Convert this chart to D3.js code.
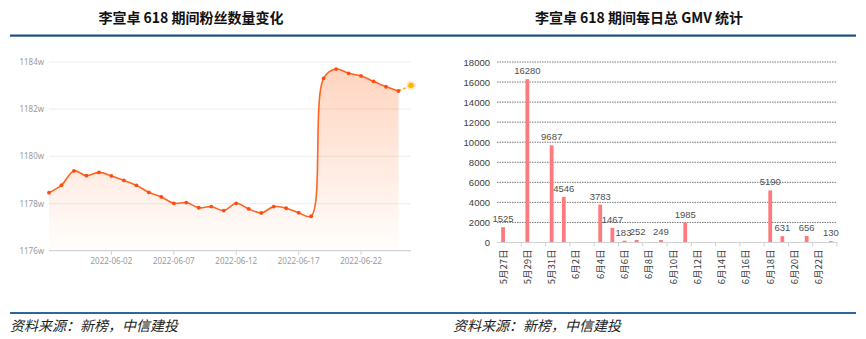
<!DOCTYPE html>
<html>
<head>
<meta charset="utf-8">
<script src="https://cdn.jsdelivr.net/npm/d3@7"></script>
<style>
  body { margin: 0; background: #fff; }
  svg { display: block; }
</style>
</head>
<body>
<script>
/**Data - fans (万) */
const fanDates = ["2022-05-28","2022-05-29","2022-05-30","2022-05-31","2022-06-01","2022-06-02","2022-06-03",
  "2022-06-04","2022-06-05","2022-06-06","2022-06-07","2022-06-08","2022-06-09","2022-06-10","2022-06-11",
  "2022-06-12","2022-06-13","2022-06-14","2022-06-15","2022-06-16","2022-06-17","2022-06-18","2022-06-19",
  "2022-06-20","2022-06-21","2022-06-22","2022-06-23","2022-06-24","2022-06-25"];
const fanValues = [1178.46,1178.78,1179.38,1179.18,1179.32,1179.17,1178.98,
  1178.77,1178.47,1178.28,1178.01,1178.04,1177.82,1177.87,1177.70,
  1178.01,1177.77,1177.60,1177.87,1177.80,1177.61,1177.46,1183.31,
  1183.70,1183.52,1183.41,1183.18,1182.95,1182.77];
const fanForecast = ["2022-06-26", 1183.01];
const fanYTicks = [1176, 1178, 1180, 1182, 1184];
const fanXTicks = ["2022-06-02","2022-06-07","2022-06-12","2022-06-17","2022-06-22"];

/**Data - daily GMV */
const gmvDays = ["5月27日","5月28日","5月29日","5月30日","5月31日","6月1日","6月2日","6月3日","6月4日","6月5日",
  "6月6日","6月7日","6月8日","6月9日","6月10日","6月11日","6月12日","6月13日","6月14日","6月15日",
  "6月16日","6月17日","6月18日","6月19日","6月20日","6月21日","6月22日","6月23日"];
const gmvValues = [1525,null,16280,null,9687,4546,null,null,3783,1467,
  183,252,null,249,null,1985,null,null,null,null,
  null,null,5190,631,null,656,null,130];
const gmvYTicks = [0,2000,4000,6000,8000,10000,12000,14000,16000,18000];

const width = 866, height = 339;
const parse = d3.timeParse("%Y-%m-%d");
const cjk = "'Noto Sans CJK SC', sans-serif";

const svg = d3.select("body").append("svg")
  .attr("width", width)
  .attr("height", height);

/**Frame: titles, blue rules, sources */
svg.append("text").attr("x", 191).attr("y", 23)
  .attr("text-anchor", "middle").attr("font-family", cjk).attr("font-weight", 700)
  .attr("font-size", "14px").attr("fill", "#111").text("李宣卓 618 期间粉丝数量变化");
svg.append("text").attr("x", 639).attr("y", 23)
  .attr("text-anchor", "middle").attr("font-family", cjk).attr("font-weight", 700)
  .attr("font-size", "14px").attr("fill", "#111").text("李宣卓 618 期间每日总 GMV 统计");
svg.append("rect").attr("x", 10).attr("y", 34.5).attr("width", 846).attr("height", 2.2).attr("fill", "#1c4e8e");
svg.append("rect").attr("x", 10).attr("y", 312).attr("width", 846).attr("height", 2).attr("fill", "#2e67a0");
[10, 453].forEach(x => {
  svg.append("text").attr("x", x).attr("y", 331)
    .attr("font-family", cjk).attr("font-style", "italic")
    .attr("font-size", "14px").attr("fill", "#222").text("资料来源：新榜，中信建投");
});

/**Left chart - fans line */
function drawFans() {
  const g = svg.append("g");
  const x = d3.scaleTime().domain([parse("2022-05-28"), parse("2022-06-26")]).range([49, 411]);
  const y = d3.scaleLinear().domain([1176, 1184]).range([250.7, 62]);
  const data = fanDates.map((d, i) => ({ date: parse(d), v: fanValues[i] }));

  g.selectAll(".grid").data(fanYTicks).enter().append("line")
    .attr("x1", 49).attr("x2", 411)
    .attr("y1", d => y(d)).attr("y2", d => y(d))
    .attr("stroke", d => d === 1176 ? "#d4d4d4" : "#efefef").attr("stroke-width", 1.2);
  g.selectAll(".ylab").data(fanYTicks).enter().append("text")
    .attr("x", 44).attr("y", d => y(d) + 3)
    .attr("text-anchor", "end").attr("font-family", "'Noto Sans', sans-serif")
    .attr("font-size", "8px").attr("fill", "#9a9a9a")
    .text(d => d + "w");
  g.selectAll(".xtick").data(fanXTicks).enter().append("line")
    .attr("x1", d => x(parse(d))).attr("x2", d => x(parse(d)))
    .attr("y1", 251).attr("y2", 255).attr("stroke", "#d4d4d4");
  g.selectAll(".xlab").data(fanXTicks).enter().append("text")
    .attr("x", d => x(parse(d))).attr("y", 264)
    .attr("text-anchor", "middle").attr("font-family", "'Noto Sans', sans-serif")
    .attr("font-size", "8px").attr("fill", "#9a9a9a")
    .text(d => d);

  const defs = svg.append("defs");
  const grad = defs.append("linearGradient").attr("id", "fanGrad")
    .attr("gradientUnits", "userSpaceOnUse")
    .attr("x1", 0).attr("x2", 0).attr("y1", y(1183.7)).attr("y2", y(1176));
  grad.append("stop").attr("offset", "0%").attr("stop-color", "#ff8a50").attr("stop-opacity", 0.36);
  grad.append("stop").attr("offset", "100%").attr("stop-color", "#ff8a50").attr("stop-opacity", 0.01);

  const curve = d3.curveCatmullRom.alpha(0.5);
  const area = d3.area().x(d => x(d.date)).y0(y(1176)).y1(d => y(d.v)).curve(curve);
  const line = d3.line().x(d => x(d.date)).y(d => y(d.v)).curve(curve);

  g.append("path").datum(data).attr("d", area).attr("fill", "url(#fanGrad)");
  g.append("path").datum(data).attr("d", line)
    .attr("fill", "none").attr("stroke", "#ff6420").attr("stroke-width", 1.6);

  const last = data[data.length - 1];
  const fc = { date: parse(fanForecast[0]), v: fanForecast[1] };
  g.append("line")
    .attr("x1", x(last.date)).attr("y1", y(last.v))
    .attr("x2", x(fc.date)).attr("y2", y(fc.v))
    .attr("stroke", "#ffb020").attr("stroke-width", 1.6).attr("stroke-dasharray", "3,2");

  g.selectAll(".pt").data(data).enter().append("circle")
    .attr("cx", d => x(d.date)).attr("cy", d => y(d.v)).attr("r", 1.9)
    .attr("fill", "#ff4a10");
  g.append("circle").attr("cx", x(fc.date)).attr("cy", y(fc.v)).attr("r", 4.5)
    .attr("fill", "#ffd060").attr("opacity", 0.5);
  g.append("circle").attr("cx", x(fc.date)).attr("cy", y(fc.v)).attr("r", 2.6)
    .attr("fill", "#ffb000");
}

/**Right chart - GMV bars */
function drawGmv() {
  const g = svg.append("g");
  const x = d3.scaleBand().domain(gmvDays).range([497, 837]).padding(0);
  const y = d3.scaleLinear().domain([0, 18000]).range([242.5, 62]);

  g.selectAll(".grid").data(gmvYTicks.filter(d => d > 0)).enter().append("line")
    .attr("x1", 497).attr("x2", 837)
    .attr("y1", d => y(d)).attr("y2", d => y(d))
    .attr("stroke", "#555").attr("stroke-width", 0.8).attr("stroke-dasharray", "1.5,1");
  g.selectAll(".ylab").data(gmvYTicks).enter().append("text")
    .attr("x", 490).attr("y", d => y(d) + 3.5)
    .attr("text-anchor", "end").attr("font-family", "'Liberation Sans', Arial, sans-serif")
    .attr("font-size", "9.5px").attr("fill", "#404040")
    .text(d => d);

  const bars = gmvDays.map((d, i) => ({ day: d, v: gmvValues[i] })).filter(d => d.v !== null);
  const bw = 3.8;
  g.selectAll(".bar").data(bars).enter().append("rect")
    .attr("x", d => x(d.day) + x.bandwidth() / 2 - bw / 2)
    .attr("y", d => y(d.v))
    .attr("width", bw)
    .attr("height", d => y(0) - y(d.v))
    .attr("fill", "#ff7a7e");
  g.selectAll(".val").data(bars).enter().append("text")
    .attr("x", d => x(d.day) + x.bandwidth() / 2 + (d.day === "6月6日" ? -1 : d.day === "6月7日" ? 1 : 0))
    .attr("y", d => y(d.v) - 5)
    .attr("text-anchor", "middle").attr("font-family", "'Liberation Sans', Arial, sans-serif")
    .attr("font-size", "9.5px").attr("fill", "#505050")
    .text(d => d.v);

  // baseline with ticks every two days
  g.append("line").attr("x1", 497).attr("x2", 837).attr("y1", y(0)).attr("y2", y(0))
    .attr("stroke", "#d0d0d0").attr("stroke-width", 1);
  const tickDays = gmvDays.filter((d, i) => i % 2 === 0);
  g.selectAll(".xtick").data(tickDays.slice(1).concat(["end"])).enter().append("line")
    .attr("x1", d => d === "end" ? 837 : x(d)).attr("x2", d => d === "end" ? 837 : x(d))
    .attr("y1", y(0)).attr("y2", y(0) + 4)
    .attr("stroke", "#d0d0d0");
  g.selectAll(".xlab").data(tickDays).enter().append("text")
    .attr("transform", d => "translate(" + (x(d) + x.bandwidth() / 2 + 3.5) + "," + (y(0) + 7) + ") rotate(-90)")
    .attr("text-anchor", "end").attr("font-family", cjk)
    .attr("font-size", "9.5px").attr("fill", "#404040")
    .text(d => d);
}

drawFans();
drawGmv();
</script>
</body>
</html>
